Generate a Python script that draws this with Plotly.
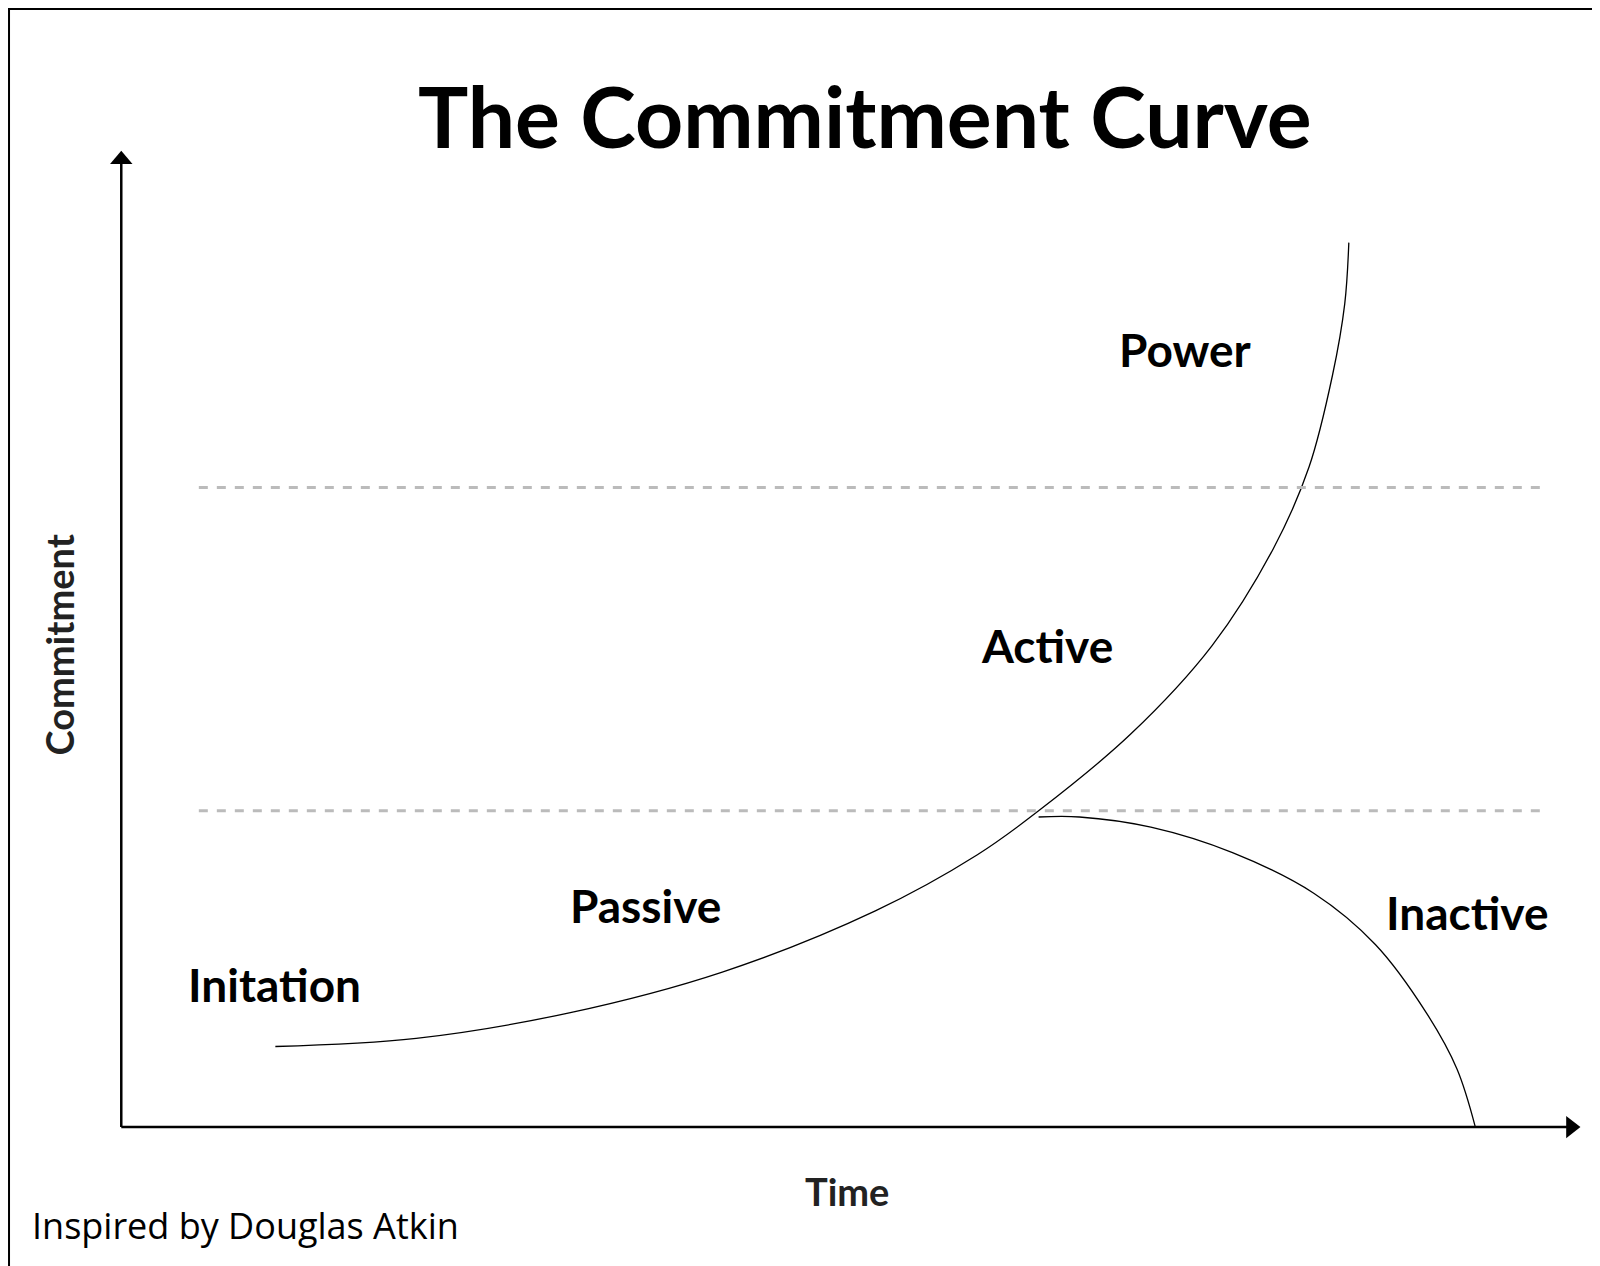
import plotly.graph_objects as go

# curve points (pixel space of the reference, y downward)
curve_x = [262, 400, 550, 700, 850, 950, 1010, 1100, 1180, 1240, 1275, 1298, 1310, 1314]
curve_y = [1018, 1010, 985, 945, 885, 830, 787, 712, 625, 530, 450, 360, 290, 230]
drop_x = [1010, 1050, 1120, 1200, 1280, 1340, 1390, 1420, 1438]
drop_y = [793, 793, 803, 828, 868, 918, 985, 1040, 1097]
band_y = [470, 787]
labels = ["Power", "Active", "Passive", "Initation", "Inactive"]
label_x = [1153, 1018, 625, 261, 1430]
label_y = [335, 625, 880, 957, 887]

W, H = 1568, 1241
font = "Lato"

fig = go.Figure()
fig.add_trace(go.Scatter(x=curve_x, y=curve_y, mode="lines",
                         line=dict(color="black", width=1.3, shape="spline", smoothing=1.0)))
fig.add_trace(go.Scatter(x=drop_x, y=drop_y, mode="lines",
                         line=dict(color="black", width=1.3, shape="spline", smoothing=1.0)))

for y in band_y:
    fig.add_shape(type="line", x0=187, x1=1505, y0=y, y1=y, line=dict(color="#bbbbbb", width=3, dash="dash"))
# axes
fig.add_shape(type="line", x0=111, x1=111, y0=1097, y1=150, line=dict(color="black", width=2.5))
fig.add_shape(type="line", x0=111, x1=1530, y0=1097, y1=1097, line=dict(color="black", width=2.5))
fig.add_shape(type="path", path="M 100 153 L 122 153 L 111 140 Z", fillcolor="black", line=dict(width=0))
fig.add_shape(type="path", path="M 1527 1086 L 1527 1108 L 1541 1097 Z", fillcolor="black", line=dict(width=0))
# border
fig.add_shape(type="rect", x0=1, x1=W - 1, y0=1, y1=H - 1, line=dict(color="black", width=2))

for t, x, y in zip(labels, label_x, label_y):
    fig.add_annotation(x=x, y=y, text="<b>" + t + "</b>", showarrow=False,
                       font=dict(family=font, size=46, color="black"))
fig.add_annotation(x=840, y=105, text="<b>The Commitment Curve</b>", showarrow=False,
                   font=dict(family=font, size=84, color="black"))
fig.add_annotation(x=822, y=1160, text="<b>Time</b>", showarrow=False, font=dict(family=font, size=38, color="#222"))
fig.add_annotation(x=50, y=625, text="<b>Commitment</b>", textangle=-90, showarrow=False,
                   font=dict(family=font, size=38, color="#222"))
fig.add_annotation(x=22, y=1193, text="Inspired by Douglas Atkin", xanchor="left", showarrow=False,
                   font=dict(family="Open Sans", size=36, color="black"))

fig.update_xaxes(range=[0, W], visible=False)
fig.update_yaxes(range=[H, 0], visible=False)
fig.update_layout(width=1600, height=1266, margin=dict(l=0, r=0, t=0, b=0),
                  plot_bgcolor="white", paper_bgcolor="white", showlegend=False)
fig.write_html("out.html")
